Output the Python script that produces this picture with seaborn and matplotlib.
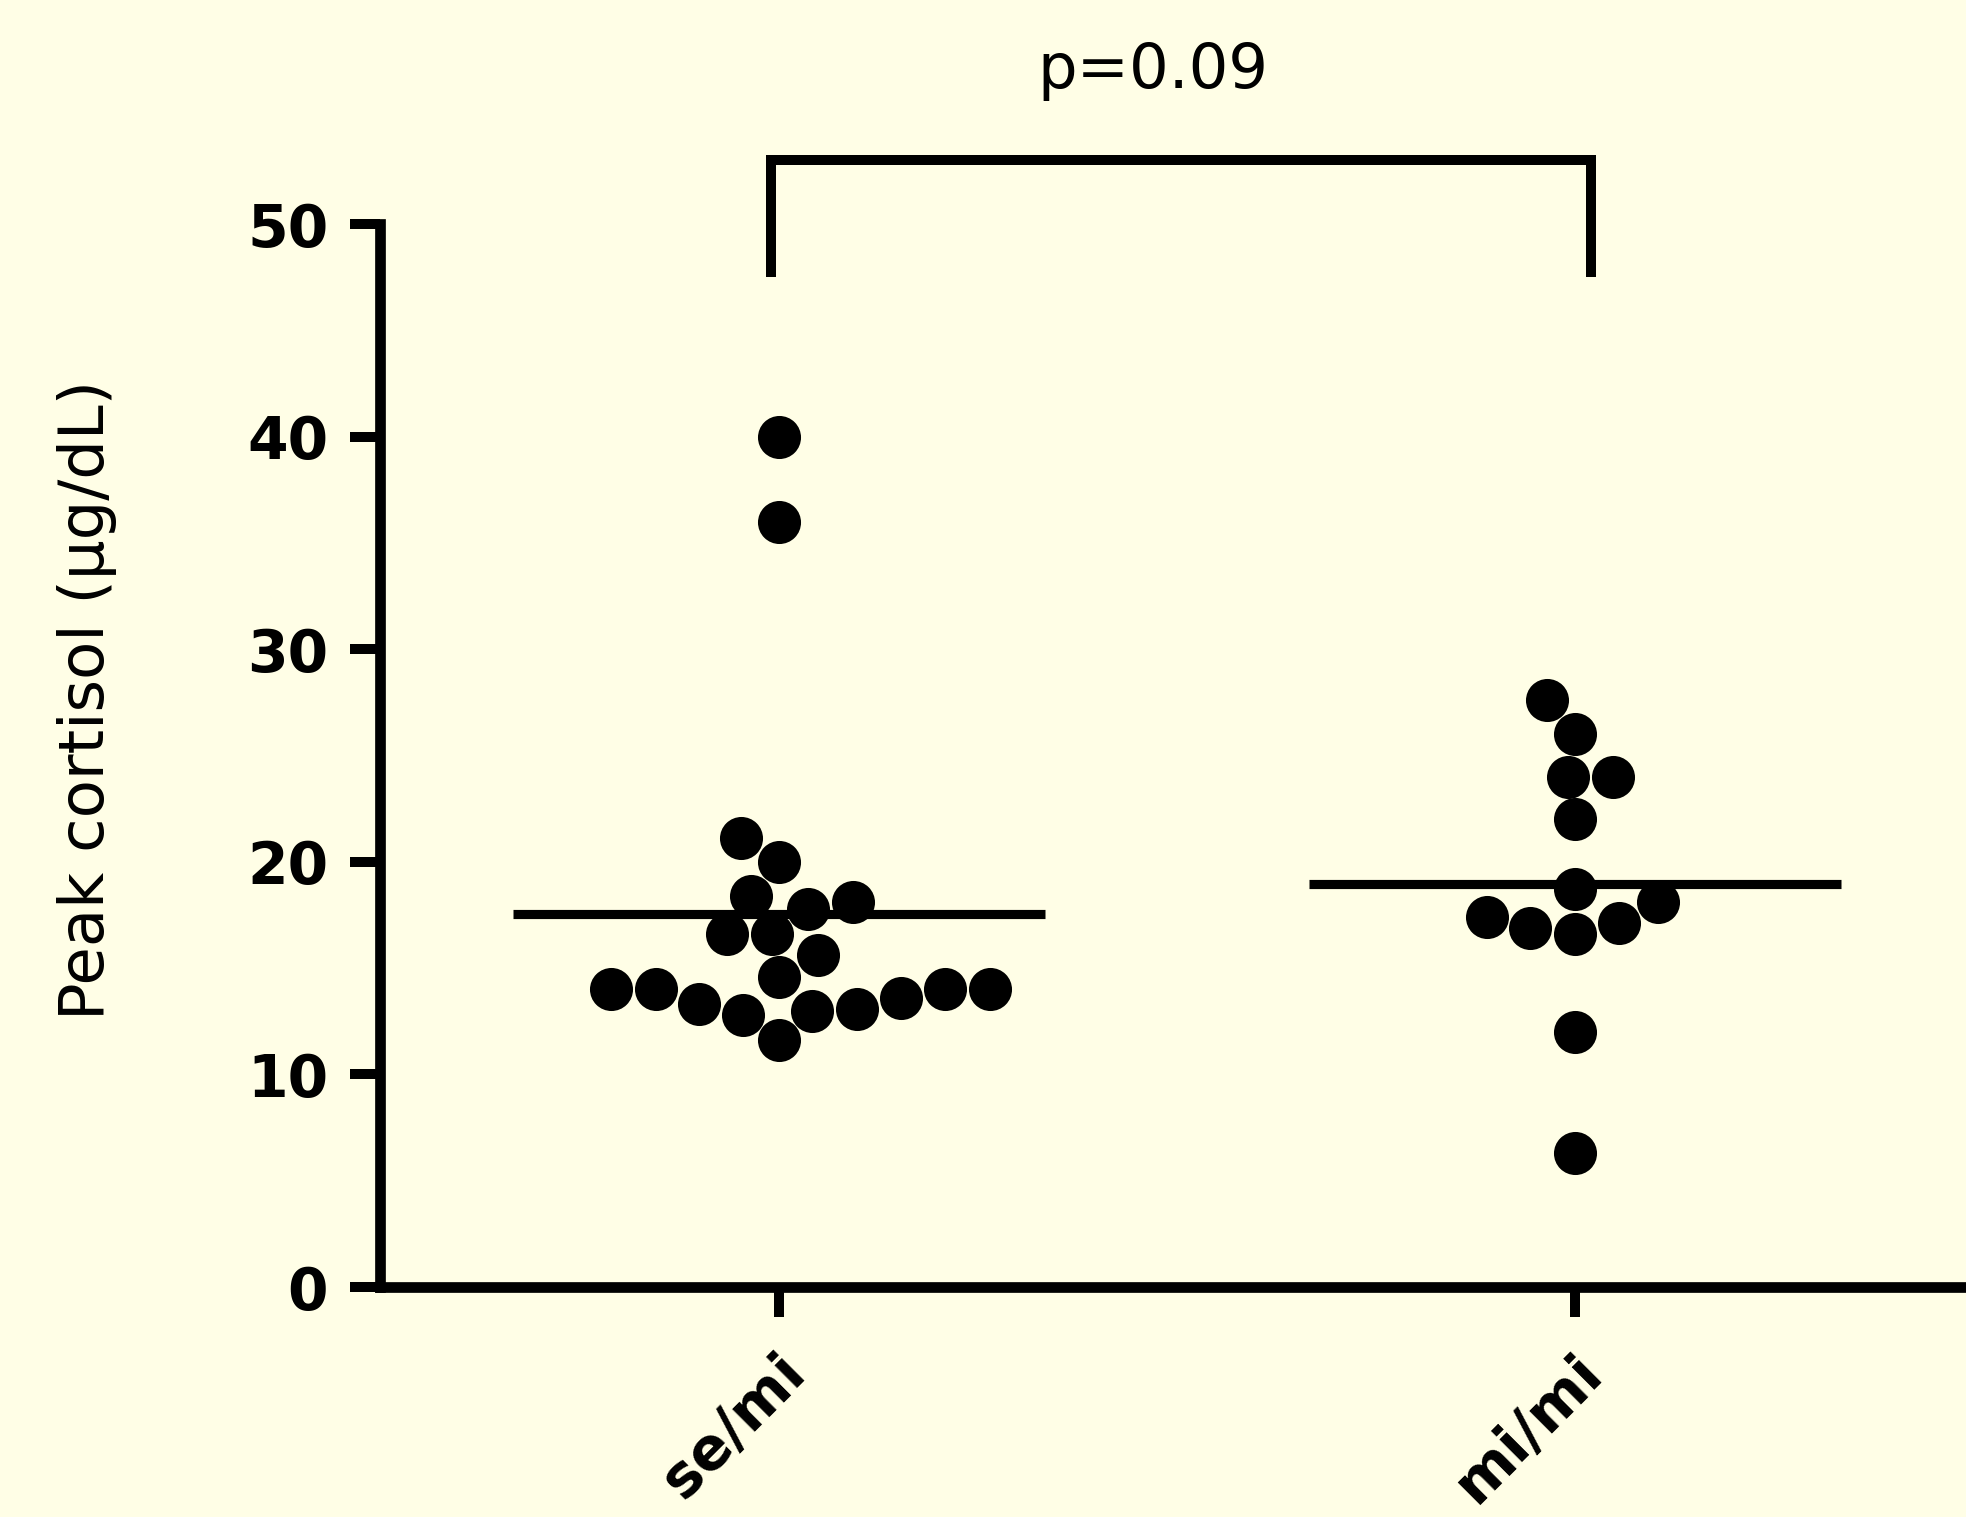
import numpy as np
import pandas as pd
import seaborn as sns
import matplotlib.pyplot as plt
import matplotlib.transforms as mtransforms

# # # values # # #
genotypes = ["se/mi", "mi/mi"]
se_mi = [40.0, 36.0, 21.1, 20.0, 18.4, 17.8, 18.1, 16.6, 16.6, 15.6, 14.6,
         14.0, 14.0, 14.0, 14.0, 13.3, 13.0, 13.6, 13.1, 12.8, 11.6]
mi_mi = [27.6, 26.0, 24.0, 24.0, 22.0, 18.7, 18.1, 17.1, 16.6, 16.9, 17.4,
         12.0, 6.3]
y_ticks = [0, 10, 20, 30, 40, 50]
y_label = "Peak cortisol (μg/dL)"
p_text = "p=0.09"
bracket_top = 53.0
bracket_bottom = 47.5

cortisol_df = pd.DataFrame({
    "genotype": [genotypes[0]] * len(se_mi) + [genotypes[1]] * len(mi_mi),
    "cortisol": se_mi + mi_mi,
})

bg = "#fffee6"
sns.set_style("ticks")
plt.rcParams["font.family"] = ["DejaVu Sans"]

fig = plt.figure(figsize=(19.66, 15.17), dpi=100, facecolor=bg)
ax = fig.add_axes([0.1935, 0.1516, 0.8065, 0.7007], facecolor=bg)

sns.swarmplot(data=cortisol_df, x="genotype", y="cortisol", order=genotypes,
              color="black", size=31, linewidth=0, ax=ax)

# mean lines
for i, g in enumerate(genotypes):
    m = cortisol_df.loc[cortisol_df["genotype"] == g, "cortisol"].mean()
    ax.hlines(m, i - 0.334, i + 0.334, color="black", lw=6.6, zorder=4)

ax.set_xlim(-0.5006, 1.491)
ax.set_ylim(0, 50)
ax.set_yticks(y_ticks)
ax.set_xlabel("")
ax.set_ylabel(y_label, fontsize=45, color="black")
ax.yaxis.set_label_coords(-0.166, 0.552)

for side in ["top", "right"]:
    ax.spines[side].set_visible(False)
for side in ["left", "bottom"]:
    ax.spines[side].set_linewidth(7.7)
    ax.spines[side].set_color("black")

ax.tick_params(axis="y", length=21.6, width=7.2, pad=16, labelsize=42, colors="black")
ax.tick_params(axis="x", length=21.6, width=7.2, pad=34, labelsize=42, colors="black")
for lab in ax.get_yticklabels():
    lab.set_fontweight("bold")
shift = mtransforms.ScaledTranslation(0.18, 0, fig.dpi_scale_trans)
for lab in ax.get_xticklabels():
    lab.set_fontweight("bold")
    lab.set_rotation(45)
    lab.set_rotation_mode("anchor")
    lab.set_ha("right")
    lab.set_va("center")
    lab.set_transform(lab.get_transform() + shift)

# significance bracket
ax.plot([-0.01, -0.01, 1.02, 1.02],
        [bracket_bottom, bracket_top, bracket_top, bracket_bottom],
        color="black", lw=7.2, clip_on=False, solid_joinstyle="miter",
        solid_capstyle="butt")
ax.text(0.47, 56.4, p_text, ha="center", va="baseline", fontsize=45,
        color="black", clip_on=False)

fig.savefig("out.png", dpi=100, facecolor=bg)
